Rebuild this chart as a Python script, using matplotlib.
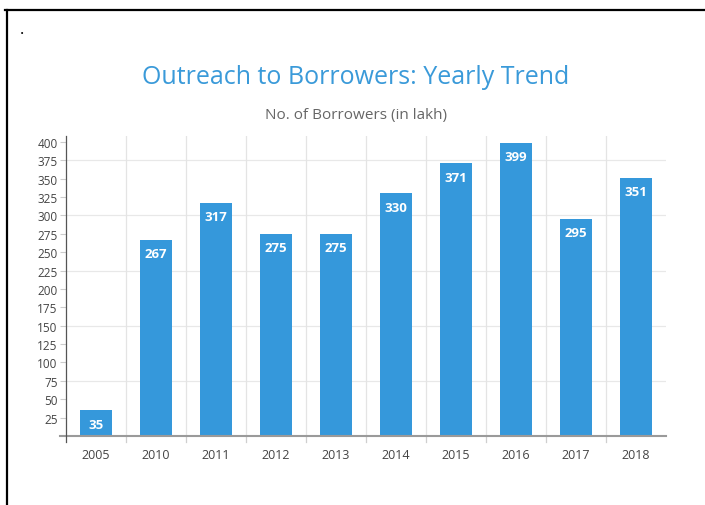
import numpy as np
from matplotlib import pyplot as plt
from matplotlib.lines import Line2D

years = ["2005", "2010", "2011", "2012", "2013", "2014", "2015", "2016", "2017", "2018"]
borrowers = [35, 267, 317, 275, 275, 330, 371, 399, 295, 351]
y_ticks = list(range(25, 401, 25))
y_grid = [75, 150, 225, 300, 375]

bar_color = "#3598db"
title_color = "#3a9ad9"

plt.rcParams["font.family"] = ["Open Sans", "DejaVu Sans"]

fig = plt.figure(figsize=(7.05, 5.06), dpi=100)
ax = fig.add_axes([66 / 705, 1 - 437 / 506, 600 / 705, 300 / 506])

x = np.arange(len(years))
bars = ax.bar(x, borrowers, width=0.52, color=bar_color, zorder=3)

for xi, v in zip(x, borrowers):
    ax.annotate(str(v), (xi, v), xytext=(0, -10), textcoords="offset points",
                ha="center", va="center", color="white", fontsize=9.5,
                fontweight="bold", zorder=4)

ax.set_xlim(-0.5, len(years) - 0.5)
ax.set_ylim(0, 408)

# grid
for g in y_grid:
    ax.axhline(g, color="#e8e8e8", lw=0.9, zorder=1)
for b in np.arange(0.5, len(years) - 1, 1.0):
    ax.plot([b, b], [0, 1], transform=ax.get_xaxis_transform(), color="#e4e4e4",
            lw=0.9, zorder=1)
    ax.plot([b, b], [0, -0.02], transform=ax.get_xaxis_transform(), color="#cfcfcf",
            lw=0.9, clip_on=False)

for s in ax.spines.values():
    s.set_visible(False)

# axis lines
ax.plot([-0.01, 1], [0, 0], transform=ax.transAxes, color="#9a9a9a", lw=1.5,
        clip_on=False, zorder=5)
ax.plot([0, 0], [-0.02, 1], transform=ax.transAxes, color="#555555", lw=0.9,
        clip_on=False, zorder=5)

ax.set_xticks(x)
ax.set_xticklabels(years, fontsize=9, color="#444444")
ax.tick_params(axis="x", length=0, pad=9)
ax.set_yticks(y_ticks)
ax.set_yticklabels([str(t) for t in y_ticks], fontsize=8.5, color="#444444")
ax.tick_params(axis="y", length=4, color="#cccccc", pad=2)

fig.text(356 / 705, 1 - 78 / 506, "Outreach to Borrowers: Yearly Trend",
         ha="center", va="center", fontsize=18, color=title_color)
fig.text(356 / 705, 1 - 115 / 506, "No. of Borrowers (in lakh)",
         ha="center", va="center", fontsize=11, color="#666666")

# document border and stray period
fig.add_artist(Line2D([5 / 705, 1], [1 - 10.5 / 506, 1 - 10.5 / 506], color="black", lw=1.6))
fig.add_artist(Line2D([6.5 / 705, 6.5 / 705], [0, 1 - 10.5 / 506], color="black", lw=1.6))
fig.text(20 / 705, 1 - 30 / 506, ".", fontsize=12, family="Liberation Serif", va="center")

fig.savefig("out.png", dpi=100)
